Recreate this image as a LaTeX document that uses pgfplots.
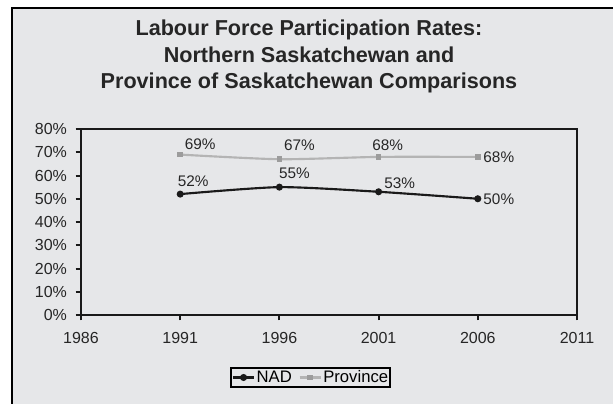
\documentclass[border=0pt]{standalone}
\usepackage{fontspec}
\setmainfont{Liberation Sans}
\usepackage{pgfplots}
\pgfplotsset{compat=1.18}
\usepackage{pgfplotstable}
\definecolor{bg}{HTML}{E6E7E9}
\definecolor{provline}{HTML}{B4B4B4}
\definecolor{provmark}{HTML}{9C9C9C}
\definecolor{nadline}{HTML}{1A1A1A}

\pgfplotstableread{
x y
1991 52
1996 55
2001 53
2006 50
}\nad
\pgfplotstableread{
x y
1991 69
1996 67
2001 68
2006 68
}\prov

\pgfplotsset{
  lbl/.style={
    forget plot, draw=none, mark=none,
    nodes near coords={\pgfmathprintnumber{\pgfplotspointmeta}\%},
    point meta=y,
    nodes near coords style={anchor=center, font=\fontsize{11.5}{13}\selectfont, text=black!85},
  }
}
% label: x, y, dx(px), dy(px up)
\newcommand\lab[4]{\addplot[lbl, nodes near coords style={xshift=#3*0.75pt, yshift=#4*0.75pt}] coordinates {(#1,#2)};}

\begin{document}
\begin{tikzpicture}
\useasboundingbox (0,0) rectangle (459.75pt,302.25pt);
\fill[white] (0,0) rectangle (459.75pt,302.25pt);
\begin{scope}[shift={(0pt,302.25pt)},x=0.75pt,y=-0.75pt]
\fill[bg] (12,8) rectangle (620,410);
\draw[line width=1.5pt] (12,410) -- (12,8) -- (620,8);
\node[align=center,font=\bfseries\fontsize{16.2}{20}\selectfont,text=black!85] at (309,56.5) {Labour Force Participation Rates:\\Northern Saskatchewan and\\Province of Saskatchewan Comparisons};
\end{scope}
\begin{axis}[
  at={(60.75pt,66pt)}, anchor=south west,
  scale only axis, width=372pt, height=139.5pt,
  xmin=1986, xmax=2011, ymin=0, ymax=80,
  xtick={1986,1991,1996,2001,2006,2011},
  ytick={0,10,...,80},
  /pgf/number format/assume math mode=true,
  /pgf/number format/1000 sep={},
  yticklabel={\pgfmathprintnumber{\tick}\%},
  xtick pos=left, ytick pos=left,
  tick align=outside,
  major tick length=4pt,
  axis line style={line width=1.5pt, black!90},
  tick style={line width=1.5pt, black!90},
  ticklabel style={font=\fontsize{12}{14}\selectfont, text=black!85},
  xticklabel style={yshift=-5.5pt},
  yticklabel style={xshift=-3pt},
  axis background/.style={fill=bg},
  legend style={at={(0.463,-0.336)}, anchor=center, draw=black, line width=1.5pt, fill=bg,
    font=\fontsize{12.5}{14}\selectfont, inner sep=0.5pt, outer sep=0pt,
    nodes={inner sep=1pt},
    /tikz/every even column/.append style={column sep=4pt}},
  legend columns=2,
  legend image code/.code={\draw[mark repeat=2,mark phase=2,#1] plot coordinates {(0pt,0pt) (8pt,0pt) (16pt,0pt)};},
  clip=false,
]
\addplot[nadline, line width=1.6pt, smooth, tension=0.4, mark=*, mark size=1.8pt, mark options={solid}] table[x=x,y=y] {\nad};
\addlegendentry{NAD}
\addplot[provline, line width=1.6pt, smooth, tension=0.4, mark=square*, mark size=1.3pt, mark options={provmark}] table[x=x,y=y] {\prov};
\addlegendentry{Province}
\lab{1991}{52}{13}{13}
\lab{1996}{55}{15}{14}
\lab{2001}{53}{21}{9}
\lab{2006}{50}{21}{0}
\lab{1991}{69}{20}{10}
\lab{1996}{67}{20}{14}
\lab{2001}{68}{9}{12}
\lab{2006}{68}{21}{0}
\end{axis}
\end{tikzpicture}
\end{document}
